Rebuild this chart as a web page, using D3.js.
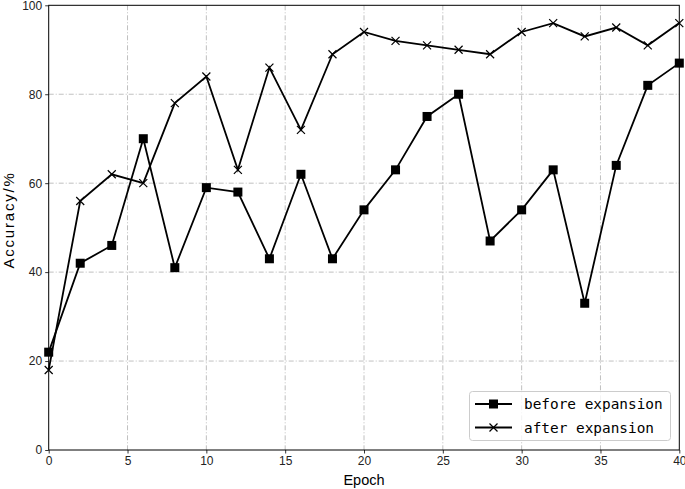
<!DOCTYPE html>
<html><head><meta charset="utf-8">
<script src="https://cdn.jsdelivr.net/npm/d3@7"></script>
<style>body{margin:0;background:#fff}svg{display:block}</style>
</head><body><svg id="c" width="685" height="489"></svg>
<script>
const epochs = [0,2,4,6,8,10,12,14,16,18,20,22,24,26,28,30,32,34,36,38,40];
const beforeExpansion = [22,42,46,70,41,59,58,43,62,43,54,63,75,80,47,54,63,33,64,82,87];
const afterExpansion = [18,56,62,60,78,84,63,86,72,89,94,92,91,90,89,94,96,93,95,91,96];
const xTicks = [0,5,10,15,20,25,30,35,40];
const yTicks = [0,20,40,60,80,100];
const seriesNames = ["before expansion","after expansion"];

const svg = d3.select("#c");
const m = {l:48.7, r:679.3, t:5.3, b:450};
const x = d3.scaleLinear().domain([0,40]).range([m.l,m.r]);
const y = d3.scaleLinear().domain([0,100]).range([m.b,m.t]);
const tickFont = "Liberation Sans, Arial, sans-serif";

// grid
const grid = svg.append("g");
xTicks.filter(d=>d>0&&d<40).forEach(d=>{
  grid.append("line").attr("x1",x(d)).attr("x2",x(d)).attr("y1",m.t).attr("y2",m.b)
    .attr("stroke","#b0b0b0").attr("stroke-width",0.8).attr("stroke-dasharray","5,2,1,2");
});
yTicks.filter(d=>d>0&&d<100).forEach(d=>{
  grid.append("line").attr("x1",m.l).attr("x2",m.r).attr("y1",y(d)).attr("y2",y(d))
    .attr("stroke","#b0b0b0").attr("stroke-width",0.8).attr("stroke-dasharray","5,2,1,2");
});

// axes
const xa = svg.append("g").attr("transform",`translate(0,${m.b})`)
  .call(d3.axisBottom(x).tickValues(xTicks).tickSize(3.5).tickPadding(3));
const ya = svg.append("g").attr("transform",`translate(${m.l},0)`)
  .call(d3.axisLeft(y).tickValues(yTicks).tickSize(3.5).tickPadding(3));
[xa,ya].forEach(a=>{
  a.select(".domain").remove();
  a.selectAll("line").attr("stroke","#000").attr("stroke-width",0.8);
  a.selectAll("text").attr("font-family",tickFont).attr("font-size",12).attr("fill","#222");
});
svg.append("rect").attr("x",m.l).attr("y",m.t).attr("width",m.r-m.l).attr("height",m.b-m.t)
  .attr("fill","none").attr("stroke","#000").attr("stroke-width",1);

// labels
svg.append("text").attr("x",(m.l+m.r)/2).attr("y",485).attr("text-anchor","middle")
  .attr("font-family",tickFont).attr("font-size",14.5).text("Epoch");
svg.append("text").attr("transform",`translate(14,220) rotate(-90)`)
  .attr("text-anchor","middle").attr("font-family",tickFont).attr("font-size",15)
  .attr("letter-spacing",1.8).text("Accuracy/%");

// series
const line = d3.line().x(d=>x(d[0])).y(d=>y(d[1]));
const bData = epochs.map((e,i)=>[e,beforeExpansion[i]]);
const aData = epochs.map((e,i)=>[e,afterExpansion[i]]);
const plot = svg.append("g");
plot.append("path").datum(bData).attr("d",line).attr("fill","none").attr("stroke","#000").attr("stroke-width",1.8);
plot.append("path").datum(aData).attr("d",line).attr("fill","none").attr("stroke","#000").attr("stroke-width",1.8);
function square(g,cx,cy){g.append("rect").attr("x",cx-4.5).attr("y",cy-4.5).attr("width",9).attr("height",9).attr("fill","#000");}
function cross(g,cx,cy){const s=4;g.append("path").attr("d",`M${cx-s},${cy-s}L${cx+s},${cy+s}M${cx-s},${cy+s}L${cx+s},${cy-s}`).attr("stroke","#000").attr("stroke-width",1.2);}
bData.forEach(d=>square(plot,x(d[0]),y(d[1])));
aData.forEach(d=>cross(plot,x(d[0]),y(d[1])));

// legend
const lg = svg.append("g");
lg.append("rect").attr("x",469.5).attr("y",391.5).attr("width",201).attr("height",49).attr("rx",3)
  .attr("fill","#fff").attr("fill-opacity",0.8).attr("stroke","#ccc").attr("stroke-width",1);
const rows = [404,427.5];
seriesNames.forEach((n,i)=>{
  lg.append("line").attr("x1",475).attr("x2",512).attr("y1",rows[i]).attr("y2",rows[i]).attr("stroke","#000").attr("stroke-width",1.8);
  if(i===0) square(lg,493.5,rows[i]); else cross(lg,493.5,rows[i]);
  lg.append("text").attr("x",524).attr("y",rows[i]+5).attr("font-family","DejaVu Sans Mono, Liberation Mono, monospace")
    .attr("font-size",14.4).text(n);
});
</script></body></html>
